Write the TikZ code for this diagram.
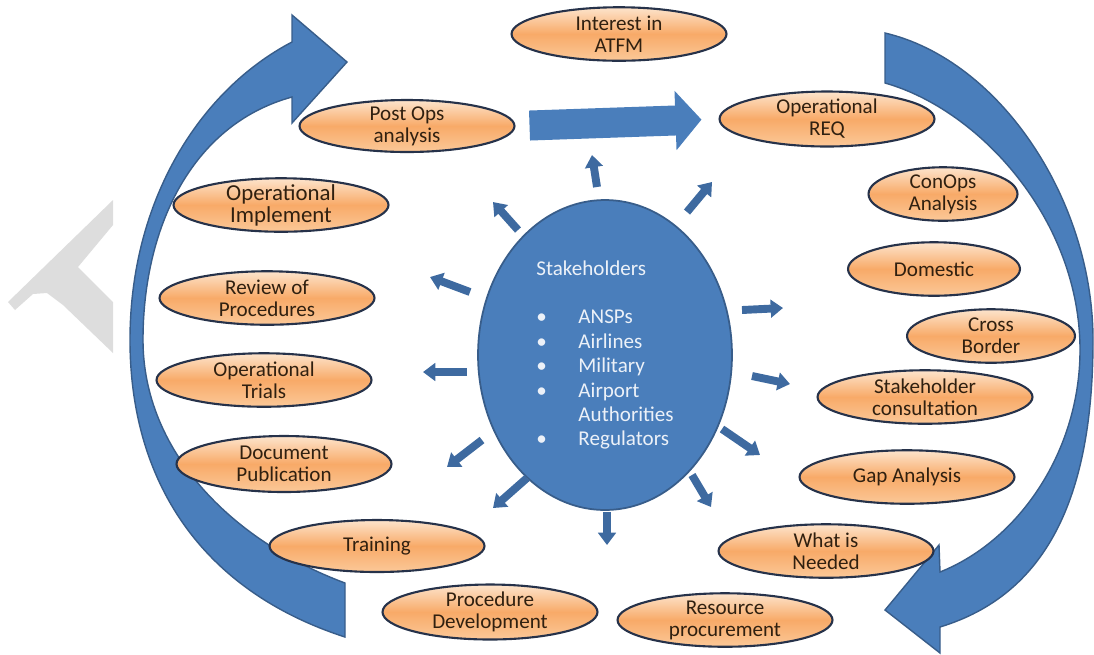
\documentclass[tikz,border=0pt]{standalone}
\usepackage{fontspec}
\setmainfont{Carlito}
\usetikzlibrary{shapes.geometric, arrows.meta}
\definecolor{peachtop}{RGB}{253,228,204}
\definecolor{peachmid}{RGB}{248,170,104}
\definecolor{peachlow}{RGB}{251,200,152}
\definecolor{rimdark}{RGB}{38,50,74}
\definecolor{inkbrown}{RGB}{48,32,16}
\definecolor{hubblue}{RGB}{74,126,187}
\definecolor{hubrim}{RGB}{56,93,138}
\definecolor{hubink}{RGB}{236,241,248}
\definecolor{spokeblue}{RGB}{62,106,160}
\definecolor{markgrey}{RGB}{221,221,221}

\begin{document}
\begin{tikzpicture}[
		x=0.02cm, y=-0.02cm,
		phase/.style={ellipse, draw=rimdark, line width=1.2pt, top color=peachtop, bottom color=peachlow, middle color=peachmid, minimum width=4.3cm, minimum height=1.07cm, inner sep=0pt},
		phasetext/.style={font=\fontsize{12}{12.5}\selectfont, text=inkbrown, align=center},
		hub/.style={ellipse, draw=hubrim, line width=1pt, fill=hubblue, minimum width=5.08cm, minimum height=6.2cm, inner sep=0pt, text=hubink, align=left, font=\fontsize{12}{13.9}\selectfont},
		spoke/.style={draw=spokeblue, line width=4.5pt, -{Triangle[width=10pt,length=7pt]}},
		loop arrow/.style={fill=hubblue, draw=hubrim, line width=0.8pt},
		flow/.style={draw=hubblue, line width=0.6cm, -{Triangle[width=1.16cm,length=0.52cm]}, shorten <=0.28cm, shorten >=0.34cm},
	]
	\useasboundingbox (0, 0) rectangle (1094, 654);

	\fill[markgrey] (113, 200) -- (8, 302) -- (15, 310) -- (33, 294) -- (47, 293) -- (63, 305) -- (113, 353) -- (113, 302) -- (78, 267) -- (113, 225) -- cycle;

	\path[loop arrow] (345, 637) .. controls (200, 590) and (130, 480) .. (130, 340) .. controls (130, 200) and (200, 90) .. (292, 42) -- (292, 15) -- (347, 62) -- (292, 123) -- (292, 97) .. controls (190, 125) and (143, 230) .. (143, 340) .. controls (143, 450) and (230, 540) .. (345, 583) -- cycle;
	\path[loop arrow] (885, 33) .. controls (1000, 60) and (1093, 200) .. (1093, 340) .. controls (1093, 500) and (1045, 595) .. (940, 627) -- (940, 653) -- (885, 610) -- (939, 545) -- (940, 572) .. controls (1020, 540) and (1080, 450) .. (1080, 350) .. controls (1080, 220) and (980, 110) .. (885, 83) -- cycle;

	\node[hub] (hub) at (605, 355) {Stakeholders\\[13.9pt]
		\makebox[24pt][l]{\textbullet}ANSPs\\
		\makebox[24pt][l]{\textbullet}Airlines\\
		\makebox[24pt][l]{\textbullet}Military\\
		\makebox[24pt][l]{\textbullet}Airport\\
		\hspace*{24pt}Authorities\\
		\makebox[24pt][l]{\textbullet}Regulators};

	\node[phase, label={[phasetext]center:{Interest in\\ATFM}}] (interest) at (619, 34) {};
	\node[phase, minimum height=1.04cm, label={[phasetext]center:{Post Ops\\analysis}}] (postops) at (407, 126) {};
	\node[phase, minimum height=1.1cm, label={[phasetext]center:{Operational\\REQ}}] (opreq) at (827, 119) {};
	\node[phase, minimum width=2.98cm, label={[phasetext]center:{ConOps\\Analysis}}] (conops) at (943, 194) {};
	\node[phase, minimum width=3.44cm, label={[phasetext]center:Domestic}] (domestic) at (934, 269) {};
	\node[phase, minimum width=3.36cm, label={[phasetext]center:{Cross\\Border}}] (border) at (991, 336) {};
	\node[phase, label={[phasetext]center:{Stakeholder\\consultation}}] (consult) at (925, 397) {};
	\node[phase, label={[phasetext]center:Gap Analysis}] (gap) at (907, 477) {};
	\node[phase, label={[phasetext]center:{What is\\Needed}}] (needed) at (826, 551) {};
	\node[phase, label={[phasetext]center:{Resource\\procurement}}] (resource) at (725, 620) {};
	\node[phase, minimum height=1.1cm, label={[phasetext]center:{Procedure\\Development}}] (procdev) at (490, 612) {};
	\node[phase, minimum height=1.04cm, label={[phasetext]center:Training}] (training) at (377, 546) {};
	\node[phase, minimum height=1.12cm, label={[phasetext]center:{Document\\Publication}}] (docpub) at (284, 464) {};
	\node[phase, label={[phasetext]center:{Operational\\Trials}}] (trials) at (264, 380) {};
	\node[phase, label={[phasetext]center:{Review of\\Procedures}}] (review) at (267, 298) {};
	\node[phase, label={[phasetext, font=\fontsize{13}{12.5}\selectfont]center:{Operational\\Implement}}] (implement) at (281, 205) {};

	\draw[flow] (postops.east) -- (opreq.west);

	\foreach \i/\ax/\ay/\bx/\by in {1/597/187/592/155, 2/687/212/712/182, 3/518/230/493/202, 4/470/292/430/277, 5/467/372/423/372, 6/482/440/447/467, 7/527/478/493/508, 8/607/512/607/545, 9/692/475/711/507, 10/722/429/760/455, 11/752/376/790/384, 12/742/310/783/308}{
		\coordinate (tail\i) at (\ax, \ay);
		\coordinate (tip\i) at (\bx, \by);
		\draw[spoke] (tail\i) -- (tip\i);
	}
\end{tikzpicture}
\end{document}
